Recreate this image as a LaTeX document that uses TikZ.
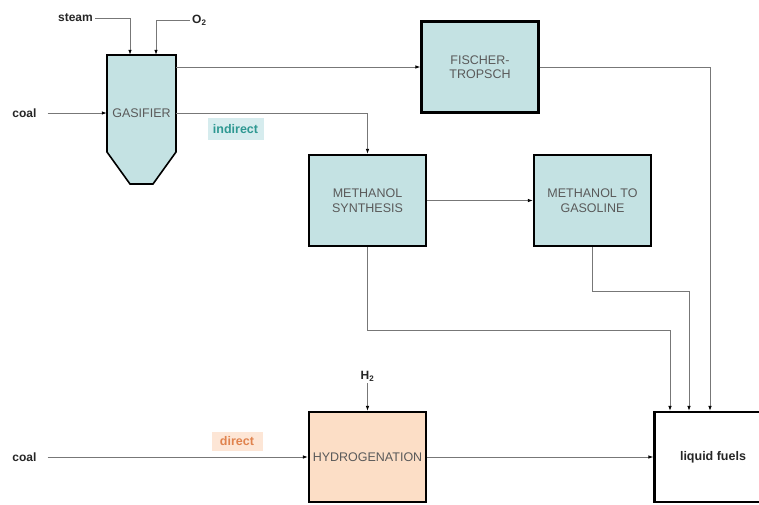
\documentclass[tikz,border=0pt]{standalone}
\usepackage{fontspec}
\setmainfont{Liberation Sans}
\usetikzlibrary{arrows.meta}

\definecolor{gasblue}{HTML}{C4E2E3}
\definecolor{hydropeach}{HTML}{FCDEC6}
\definecolor{indirectbg}{HTML}{D6ECEE}
\definecolor{indirecttxt}{HTML}{2E9892}
\definecolor{directbg}{HTML}{FDE6D6}
\definecolor{directtxt}{HTML}{E0834E}
\definecolor{flowgray}{HTML}{777777}
\definecolor{boxtxt}{HTML}{5A5A5A}

\tikzset{
  unit/.style={draw=black, line width=2.2pt, fill=gasblue, minimum width=117pt,
    minimum height=91pt, inner sep=0pt, align=center, text=boxtxt,
    font=\fontsize{12.5}{14.5}\selectfont},
  flow/.style={draw=flowgray, line width=0.8pt, -{Latex[length=5pt,width=3.5pt,color=black]}},
  feed/.style={font=\bfseries\fontsize{12}{13}\selectfont, text=black!85, inner sep=2pt},
  route/.style={font=\bfseries\fontsize{12.5}{13}\selectfont, inner sep=0pt,
    minimum height=19pt}
}

\begin{document}
\begin{tikzpicture}[x=1pt,y=-1pt]
\useasboundingbox (0,0) rectangle (759,504);

\def\topy{67}
\def\midy{200.5}
\def\boty{457}

% gasifier vessel
\draw[line width=1.6pt, fill=gasblue] (107,55) -- (176,55) -- (176,152) -- (153,184)
  -- (130,184) -- (107,152) -- cycle;
\node[minimum width=69pt, minimum height=116pt, inner sep=0pt, text=boxtxt,
  font=\fontsize{12.5}{14.5}\selectfont] (gas) at (141.5,113) {GASIFIER};

\node[unit] (ft) at (480,\topy) {FISCHER-\\TROPSCH};
\node[unit] (ms) at (367.5,\midy) {METHANOL\\SYNTHESIS};
\node[unit] (mtg) at (592.5,\midy) {METHANOL TO\\GASOLINE};
\node[unit, fill=hydropeach, minimum height=90pt] (hyd) at (367.5,\boty) {HYDROGENATION};
\node[unit, fill=white, minimum height=90pt, text=black!85,
  font=\bfseries\fontsize{12.5}{14}\selectfont] (lf) at (713,\boty) {liquid fuels};

\node[feed, anchor=east] (steam) at (95,18) {steam};
\node[feed, anchor=west] (oxy) at (190,20) {O\textsubscript{2}};
\node[feed] (coaltop) at (24.5,113) {coal};
\node[feed] (coalbot) at (24.5,\boty) {coal};
\node[feed] (htwo) at (367.5,376) {H\textsubscript{2}};

\node[route, fill=indirectbg, text=indirecttxt, minimum width=56pt, minimum height=22pt]
  (indirect) at (235.5,129) {indirect};
\node[route, fill=directbg, text=directtxt, minimum width=51pt] (direct) at (237,441.5) {direct};

\draw[flow] (steam.east) -| ([xshift=-11.5pt]gas.north);
\draw[flow] (oxy.west) -| ([xshift=14.5pt]gas.north);
\draw[flow] ([xshift=9pt]coaltop.east) -- (gas.west);
\draw[flow] (gas.north east |- ft.west) -- (ft.west);
\draw[flow] (gas.east) -| (ms.north);
\draw[flow] (ms.east) -- (mtg.west);
\draw[flow] (ft.east) -| ([xshift=-3pt]lf.north);
\draw[flow] (mtg.south) -- ++(0,44) -| ([xshift=-24pt]lf.north);
\draw[flow] (ms.south) -- ++(0,83) -| ([xshift=-43pt]lf.north);
\draw[flow] ([xshift=9pt]coalbot.east) -- (hyd.west);
\draw[flow] (htwo.south) -- (hyd.north);
\draw[flow] (hyd.east) -- (lf.west);

\end{tikzpicture}
\end{document}
